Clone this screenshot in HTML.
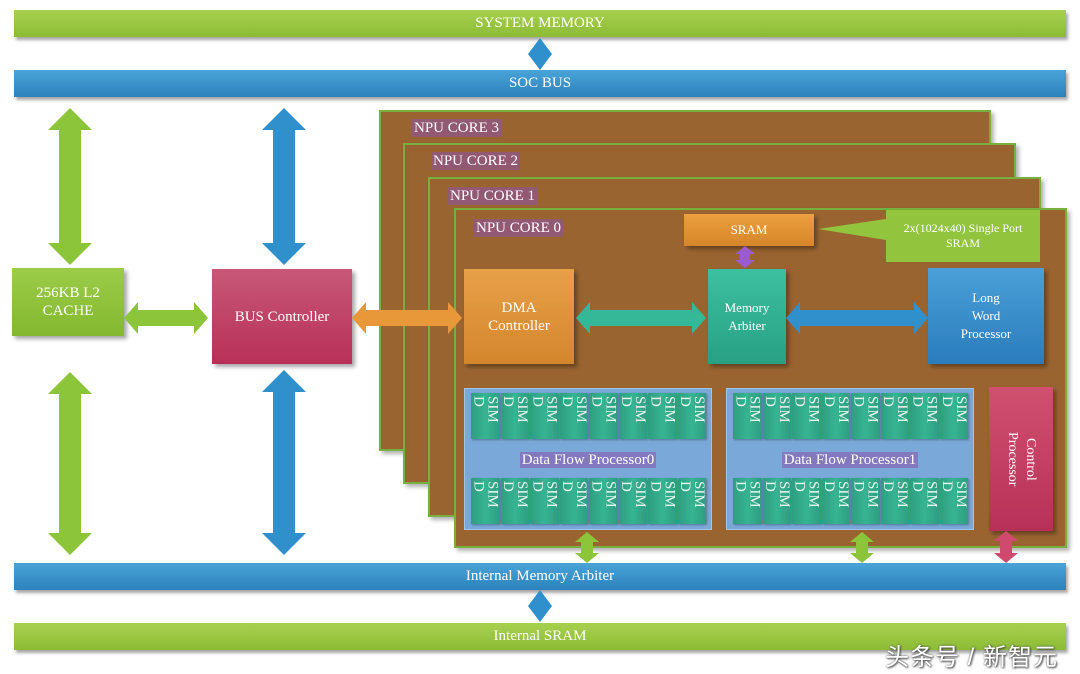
<!DOCTYPE html>
<html><head><meta charset="utf-8"><style>
*{margin:0;padding:0;box-sizing:border-box}
body{width:1080px;height:674px;background:#fff;position:relative;overflow:hidden;font-family:"Liberation Serif",serif;color:#fff}
.a{position:absolute}
.bar{position:absolute;left:14px;width:1052px;height:27px;font-size:15px;text-align:center;line-height:27px;box-shadow:2px 3px 3px rgba(0,0,0,.35)}
.g{background:linear-gradient(#a8d050,#8cbc34)}
.b{background:linear-gradient(#4aa4d8,#2c82bc)}
.core{position:absolute;background:#9a6431;border:2px solid #78b040;box-shadow:3px 3px 4px rgba(0,0,0,.3)}
.lbl{position:absolute;font-size:15px;background:rgba(140,80,170,.55);padding:0 2px;line-height:18px}
.box{position:absolute;display:flex;align-items:center;justify-content:center;text-align:center;font-size:15px;line-height:18px;box-shadow:3px 3px 4px rgba(0,0,0,.35)}
.dfp{position:absolute;background:#7aa8d8;border:1px solid #a0c4e8}
.row{position:absolute;left:6px;display:flex;gap:1px}
.c{width:28.5px;height:46px;background:linear-gradient(90deg,#2e9e80,#36b492,#2e9e80);writing-mode:vertical-rl;font-size:15px;line-height:14px;text-align:left;padding-top:3px;color:#e8f4ee;box-shadow:1px 1px 2px rgba(0,0,0,.3)}
.dl{position:absolute;width:100%;text-align:center;font-size:15px}
.dl span{background:rgba(140,80,170,.55);padding:0 2px}
</style></head><body>
<div class="bar g" style="top:10px">SYSTEM MEMORY</div>
<div class="bar b" style="top:70px">SOC BUS</div>
<div class="bar b" style="top:563px">Internal Memory Arbiter</div>
<div class="bar g" style="top:623px">Internal SRAM</div>

<div class="core" style="left:379px;top:110px;width:612px;height:341px"></div>
<div class="lbl" style="left:412px;top:119px">NPU CORE 3</div>
<div class="core" style="left:403px;top:143px;width:613px;height:341px"></div>
<div class="lbl" style="left:431px;top:152px">NPU CORE 2</div>
<div class="core" style="left:428px;top:177px;width:613px;height:340px"></div>
<div class="lbl" style="left:448px;top:187px">NPU CORE 1</div>
<div class="core" style="left:454px;top:208px;width:613px;height:340px"></div>
<div class="lbl" style="left:474px;top:219px">NPU CORE 0</div>

<div class="box" style="left:12px;top:268px;width:112px;height:68px;background:linear-gradient(#9ccc48,#84b830)">256KB L2<br>CACHE</div>
<div class="box" style="left:212px;top:269px;width:140px;height:95px;background:linear-gradient(#c85878,#b83058)">BUS Controller</div>
<div class="box" style="left:464px;top:269px;width:110px;height:95px;background:linear-gradient(#e8a048,#d4862c);font-size:15px">DMA<br>Controller</div>
<div class="box" style="left:708px;top:269px;width:78px;height:95px;background:linear-gradient(#3cc0a0,#28a084);font-size:13px">Memory<br>Arbiter</div>
<div class="box" style="left:928px;top:268px;width:116px;height:96px;background:linear-gradient(#4aa0d8,#2a7cbc);font-size:13px">Long<br>Word<br>Processor</div>
<div class="box" style="left:684px;top:214px;width:130px;height:32px;background:linear-gradient(#eca040,#d68628);font-size:13px">SRAM</div>
<div class="box" style="left:886px;top:210px;width:154px;height:52px;background:#92c43e;font-size:12px;line-height:15px;box-shadow:none">2x(1024x40) Single Port<br>SRAM</div>
<div class="box" style="left:989px;top:387px;width:64px;height:144px;background:linear-gradient(#d05070,#b83058);writing-mode:vertical-rl;font-size:14px">Control<br>Processor</div>

<div class="dfp" style="left:464px;top:388px;width:248px;height:142px">
<div class="row" style="top:4px"><div class="c">SIM<br>D</div><div class="c">SIM<br>D</div><div class="c">SIM<br>D</div><div class="c">SIM<br>D</div><div class="c">SIM<br>D</div><div class="c">SIM<br>D</div><div class="c">SIM<br>D</div><div class="c">SIM<br>D</div></div>
<div class="dl" style="top:63px"><span>Data Flow Processor0</span></div>
<div class="row" style="top:89px"><div class="c">SIM<br>D</div><div class="c">SIM<br>D</div><div class="c">SIM<br>D</div><div class="c">SIM<br>D</div><div class="c">SIM<br>D</div><div class="c">SIM<br>D</div><div class="c">SIM<br>D</div><div class="c">SIM<br>D</div></div>
</div>
<div class="dfp" style="left:726px;top:388px;width:248px;height:142px">
<div class="row" style="top:4px"><div class="c">SIM<br>D</div><div class="c">SIM<br>D</div><div class="c">SIM<br>D</div><div class="c">SIM<br>D</div><div class="c">SIM<br>D</div><div class="c">SIM<br>D</div><div class="c">SIM<br>D</div><div class="c">SIM<br>D</div></div>
<div class="dl" style="top:63px"><span>Data Flow Processor1</span></div>
<div class="row" style="top:89px"><div class="c">SIM<br>D</div><div class="c">SIM<br>D</div><div class="c">SIM<br>D</div><div class="c">SIM<br>D</div><div class="c">SIM<br>D</div><div class="c">SIM<br>D</div><div class="c">SIM<br>D</div><div class="c">SIM<br>D</div></div>
</div>

<svg class="a" style="left:0;top:0" width="1080" height="674">
<polygon points="818,229 886,219 886,240" fill="#92c43e"/>
<polygon points="70,108 92,130 81,130 81,243 92,243 70,265 48,243 59,243 59,130 48,130" fill="#8cc43a"/>
<polygon points="70,372 92,394 81,394 81,533 92,533 70,555 48,533 59,533 59,394 48,394" fill="#8cc43a"/>
<polygon points="284,108 306,130 295,130 295,243 306,243 284,265 262,243 273,243 273,130 262,130" fill="#3090cc"/>
<polygon points="284,370 306,392 295,392 295,533 306,533 284,555 262,533 273,533 273,392 262,392" fill="#3090cc"/>
<polygon points="124,318 138,302 138,310 194,310 194,302 208,318 194,334 194,326 138,326 138,334" fill="#8cc43a"/>
<polygon points="352,318 366,302 366,310 448,310 448,302 462,318 448,334 448,326 366,326 366,334" fill="#e89838"/>
<polygon points="576,318 590,302 590,310 692,310 692,302 706,318 692,334 692,326 590,326 590,334" fill="#34b898"/>
<polygon points="786,318 800,302 800,310 914,310 914,302 928,318 914,334 914,326 800,326 800,334" fill="#3090cc"/>
<polygon points="745,246 755,254 750,254 750,260 755,260 745,268 735,260 740,260 740,254 735,254" fill="#9a5ad0"/>
<polygon points="587,532 599,542 593,542 593,553 599,553 587,563 575,553 581,553 581,542 575,542" fill="#8cc43a"/>
<polygon points="862,532 874,542 868,542 868,553 874,553 862,563 850,553 856,553 856,542 850,542" fill="#8cc43a"/>
<polygon points="1006,531 1018,541 1012,541 1012,553 1018,553 1006,563 994,553 1000,553 1000,541 994,541" fill="#d04a70"/>
<polygon points="540,38 552,54 540,70 528,54" fill="#3090cc"/>
<polygon points="540,590 552,606 540,622 528,606" fill="#3090cc"/>
</svg>
<div class="a" style="left:885px;top:637px;font-family:'Liberation Sans','Noto Sans CJK SC',sans-serif;font-size:24px;letter-spacing:1px;color:#fff;text-shadow:0 0 2px #555,1px 1px 2px #333">头条号 / 新智元</div>
</body></html>
